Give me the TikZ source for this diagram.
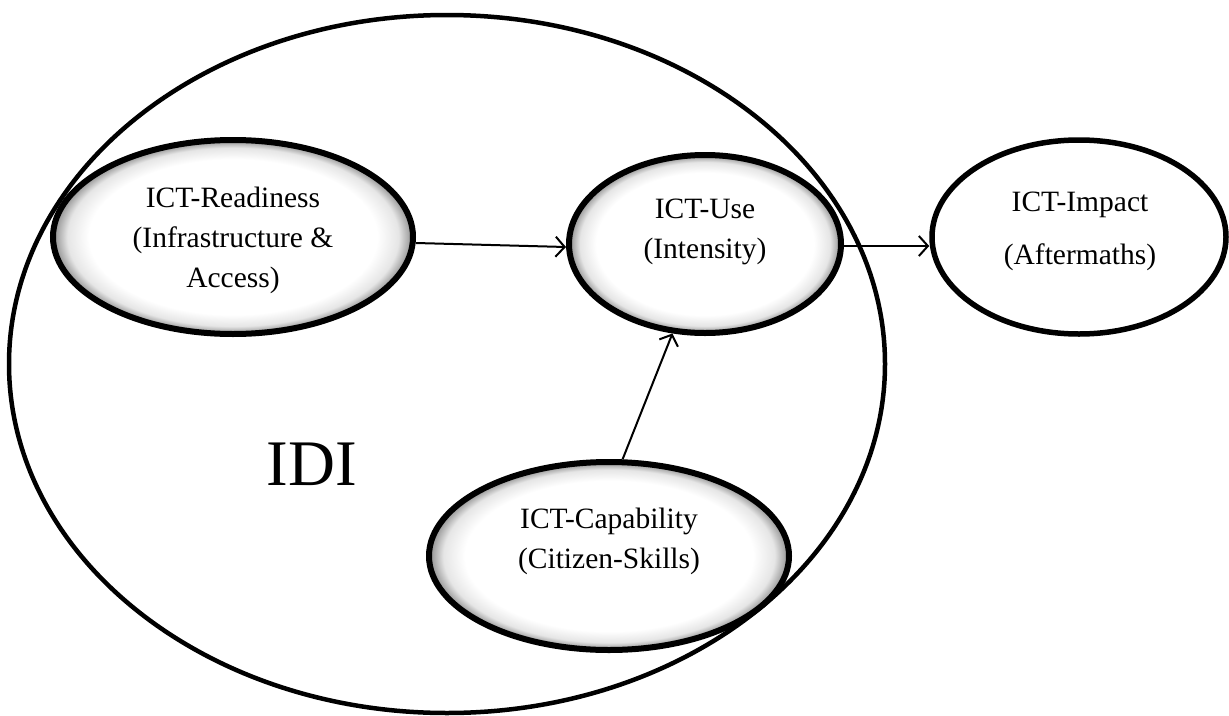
\documentclass[tikz,border=0pt]{standalone}
\usepackage{fontspec}
\setmainfont{Liberation Serif}
\usetikzlibrary{arrows.meta,shapes.geometric}

% white centre with a thin grey rim just inside the border
\pgfdeclareradialshading{rimshade}{\pgfpoint{0bp}{0bp}}{%
  color(0bp)=(white); color(20bp)=(white); color(23bp)=(black!10);
  color(25bp)=(black!45); color(50bp)=(black!45)}

\tikzset{
  frame/.style={ellipse, draw, line width=4.5pt, inner sep=0pt},
  bubble/.style={ellipse, draw, line width=6pt, inner sep=0pt, shading=rimshade},
  plainbubble/.style={ellipse, draw, line width=5.5pt, inner sep=0pt, fill=white},
  caption/.style={align=center, inner sep=0pt, font=\fontsize{29.5}{40}\selectfont},
  link/.style={line width=2pt, -{Straight Barb[length=9pt,width=20pt,line width=2pt]}}
}

\begin{document}
\begin{tikzpicture}[x=1pt,y=-1pt]
\useasboundingbox (0,0) rectangle (1229,715);

% outer index ellipse
\node[frame, minimum width=876pt, minimum height=698pt] (idi) at (447,364) {};
\node[font=\fontsize{65}{65}\selectfont, inner sep=0pt] (idiname) at (312,464) {IDI};

% component ellipses
\node[bubble, minimum width=360pt, minimum height=194pt] (rd) at (233,237) {};
\node[bubble, minimum width=272pt, minimum height=178pt] (us) at (705,244) {};
\node[plainbubble, minimum width=294pt, minimum height=194pt] (im) at (1079,237) {};
\node[bubble, minimum width=360pt, minimum height=188pt] (cp) at (609,556) {};

% labels
\node[caption] (rdt) at (233,240) {ICT-Readiness\\(Infrastructure \&\\Access)};
\node[caption] (ust) at (705,232) {ICT-Use\\(Intensity)};
\node[caption, font=\fontsize{29.5}{53}\selectfont] (imt) at (1080,231) {ICT-Impact\\(Aftermaths)};
\node[caption] (cpt) at (609,541) {ICT-Capability\\(Citizen-Skills)};

% connectors
\draw[link] ([yshift=-6pt]rd.east) -- ([yshift=-3pt]us.west);
\draw[link] ([yshift=-2pt]us.east) -- ([yshift=-9pt]im.west);
\draw[link] (cp.82) -- (us.-110);
\end{tikzpicture}
\end{document}
